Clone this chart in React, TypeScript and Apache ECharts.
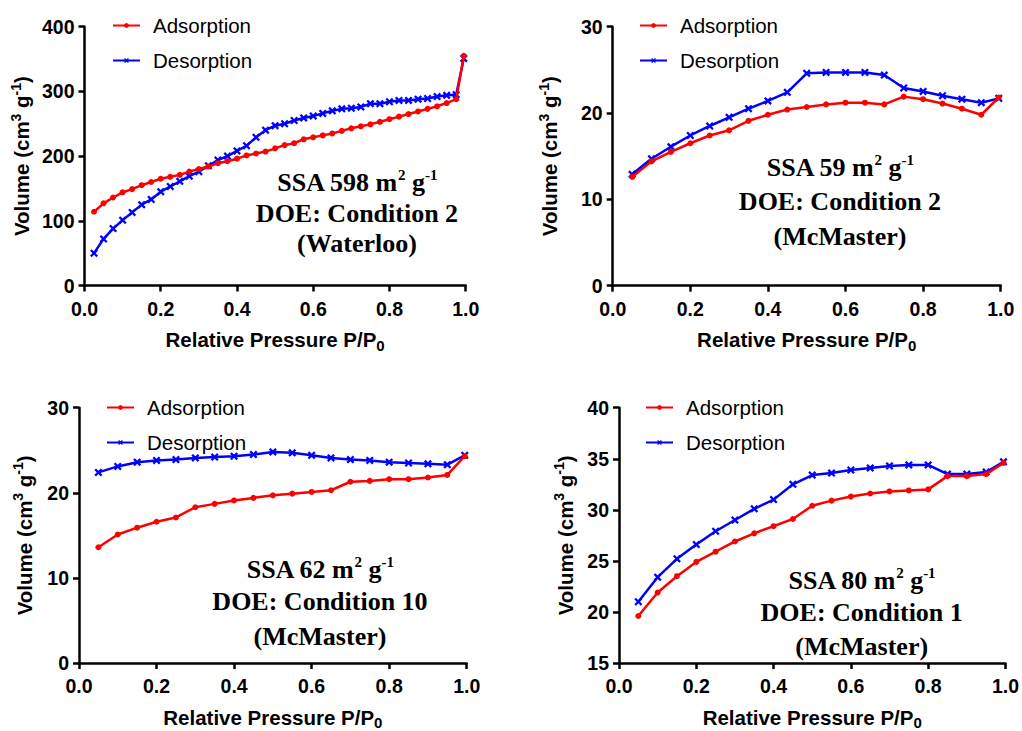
import React, { useEffect, useRef } from "react";
import * as echarts from "echarts";

const p1X = [0.025, 0.05, 0.075, 0.1, 0.125, 0.15, 0.175, 0.2, 0.225, 0.25, 0.275, 0.3, 0.325, 0.35, 0.375, 0.4, 0.425, 0.45, 0.475, 0.5, 0.525, 0.55, 0.575, 0.6, 0.625, 0.65, 0.675, 0.7, 0.725, 0.75, 0.775, 0.8, 0.825, 0.85, 0.875, 0.9, 0.925, 0.95, 0.975, 0.995];
const p1Ads = [114, 127, 136, 144, 149, 155, 160, 165, 168, 171, 176, 180, 184, 189, 192, 196, 201, 204, 207, 212, 217, 220, 226, 229, 232, 235, 239, 243, 246, 249, 253, 257, 261, 265, 269, 273, 277, 282, 288, 355];
const p1Des = [50, 72, 88, 101, 113, 125, 133, 145, 153, 161, 169, 176, 185, 194, 200, 208, 216, 229, 240, 247, 250, 255, 259, 262, 266, 270, 273, 274, 276, 281, 281, 284, 286, 286, 288, 289, 292, 294, 295, 351];

const pX = [0.05, 0.1, 0.15, 0.2, 0.25, 0.3, 0.35, 0.4, 0.45, 0.5, 0.55, 0.6, 0.65, 0.7, 0.75, 0.8, 0.85, 0.9, 0.95, 0.995];
const p2Ads = [12.6, 14.4, 15.5, 16.5, 17.4, 18.0, 19.1, 19.8, 20.4, 20.7, 21.0, 21.2, 21.2, 21.0, 21.9, 21.6, 21.1, 20.5, 19.8, 21.8];
const p2Des = [12.9, 14.7, 16.1, 17.4, 18.5, 19.5, 20.5, 21.4, 22.4, 24.6, 24.7, 24.7, 24.7, 24.4, 22.9, 22.5, 22.0, 21.6, 21.2, 21.7];
const p3Ads = [13.6, 15.1, 15.9, 16.6, 17.1, 18.3, 18.7, 19.1, 19.4, 19.7, 19.9, 20.1, 20.3, 21.3, 21.4, 21.6, 21.6, 21.8, 22.1, 24.3];
const p3Des = [22.4, 23.1, 23.6, 23.8, 23.9, 24.1, 24.2, 24.3, 24.5, 24.8, 24.7, 24.4, 24.1, 23.9, 23.8, 23.6, 23.5, 23.4, 23.3, 24.4];
const p4Ads = [19.6, 21.9, 23.5, 24.9, 25.9, 26.9, 27.7, 28.4, 29.1, 30.4, 30.9, 31.3, 31.6, 31.8, 31.9, 32.0, 33.3, 33.3, 33.5, 34.6];
const p4Des = [21.0, 23.4, 25.2, 26.6, 27.9, 29.0, 30.1, 31.0, 32.5, 33.4, 33.6, 33.9, 34.1, 34.3, 34.4, 34.4, 33.5, 33.5, 33.7, 34.7];

const yMins = [0, 0, 0, 15];
const yMaxs = [400, 30, 30, 40];
const yIntervals = [100, 10, 10, 5];

const seriesNames = ["Adsorption", "Desorption"];
const annotations = [
  ["SSA 598 m", "2", " g", "-1", "DOE: Condition 2", "(Waterloo)"],
  ["SSA 59 m", "2", " g", "-1", "DOE: Condition 2", "(McMaster)"],
  ["SSA 62 m", "2", " g", "-1", "DOE: Condition 10", "(McMaster)"],
  ["SSA 80 m", "2", " g", "-1", "DOE: Condition 1", "(McMaster)"],
];

const SANS = "'Liberation Sans', Arial, sans-serif";
const SERIF = "'Liberation Serif', 'Times New Roman', serif";
const CROSS = "path://M2,0 L5,3 L8,0 L10,2 L7,5 L10,8 L8,10 L5,7 L2,10 L0,8 L3,5 L0,2 Z";

const panels = [
  { left: 84.5, right: 465.7, top: 26.7, bottom: 285.5, yGap: 50, legL: 112, legT: 15, ann: { x: 357, y: [182, 213, 243] } },
  { left: 612.7, right: 1000.7, top: 26.7, bottom: 285.7, yGap: 50, legL: 639, legT: 15, ann: { x: 840, y: [167.5, 201.7, 236] } },
  { left: 79, right: 466.7, top: 407.7, bottom: 667.8, yGap: 42, legL: 106, legT: 397, ann: { x: 320, y: [569, 601.7, 636.7] } },
  { left: 619, right: 1006.7, top: 407.7, bottom: 667.8, yGap: 41, legL: 645, legT: 397, ann: { x: 861.7, y: [580, 612, 646.7] } },
];

const dataSets = [
  { x: p1X, ads: p1Ads, des: p1Des },
  { x: pX, ads: p2Ads, des: p2Des },
  { x: pX, ads: p3Ads, des: p3Des },
  { x: pX, ads: p4Ads, des: p4Des },
];

function zip(xs: number[], ys: number[]) {
  return xs.map((x, i) => [x, ys[i]]);
}

export default function App() {
  const ref = useRef<HTMLDivElement>(null);
  useEffect(() => {
    if (!ref.current) return;
    const chart = echarts.init(ref.current, null, { renderer: "svg" });
    const axisLine = { show: true, lineStyle: { color: "#000", width: 2.5 } };
    const axisTick = { show: true, inside: false, length: 6, lineStyle: { color: "#000", width: 2.5 } };
    const tickLabel = { color: "#000", fontSize: 19.5, fontWeight: "bold", fontFamily: SANS };

    const grid = panels.map((p) => ({
      left: p.left,
      top: p.top,
      width: p.right - p.left,
      height: p.bottom - p.top,
      containLabel: false,
    }));

    const xAxis = panels.map((p, i) => ({
      type: "value",
      gridIndex: i,
      min: 0,
      max: 1,
      interval: 0.2,
      axisLine,
      axisTick,
      splitLine: { show: false },
      axisLabel: { ...tickLabel, margin: 13, formatter: (v: number) => v.toFixed(1) },
      name: "Relative Pressure P/P{sub|0}",
      nameLocation: "middle",
      nameGap: 41,
      nameTextStyle: {
        color: "#000",
        fontSize: 20.5,
        fontWeight: "bold",
        fontFamily: SANS,
        lineHeight: 26,
        rich: {
          sub: { fontSize: 15, fontWeight: "bold", fontFamily: SANS, color: "#000", verticalAlign: "bottom", lineHeight: 15 },
        },
      },
    }));

    const yAxis = panels.map((p, i) => ({
      type: "value",
      gridIndex: i,
      min: yMins[i],
      max: yMaxs[i],
      interval: yIntervals[i],
      axisLine,
      axisTick,
      splitLine: { show: false },
      axisLabel: { ...tickLabel, margin: 10 },
      name: "Volume (cm{sup|3} g{sup|-1})",
      nameLocation: "middle",
      nameGap: p.yGap,
      nameTextStyle: {
        color: "#000",
        fontSize: 20.5,
        fontWeight: "bold",
        fontFamily: SANS,
        lineHeight: 26,
        rich: {
          sup: { fontSize: 14, fontWeight: "bold", fontFamily: SANS, color: "#000", verticalAlign: "top", lineHeight: 16 },
        },
      },
    }));

    const series: any[] = [];
    dataSets.forEach((d, i) => {
      series.push({
        type: "line",
        name: seriesNames[0],
        xAxisIndex: i,
        yAxisIndex: i,
        data: zip(d.x, d.ads),
        symbol: "circle",
        symbolSize: 6,
        lineStyle: { color: "#ff0000", width: 2.5 },
        itemStyle: { color: "#ff0000" },
        z: 3,
      });
      series.push({
        type: "line",
        name: seriesNames[1],
        xAxisIndex: i,
        yAxisIndex: i,
        data: zip(d.x, d.des),
        symbol: CROSS,
        symbolSize: 8,
        lineStyle: { color: "#0000ff", width: 2.5 },
        itemStyle: { color: "#0000ff" },
        z: 2,
      });
    });

    const legend = panels.map((p) => ({
      data: seriesNames,
      orient: "vertical",
      left: p.legL - 5,
      top: p.legT - 5,
      itemWidth: 27,
      itemHeight: 6,
      itemGap: 14,
      selectedMode: false,
      textStyle: { color: "#000", fontSize: 20.5, fontFamily: SANS, padding: [0, 0, 0, 8], lineHeight: 21 },
    }));

    const mainRich = {
      b: { fontSize: 26, fontWeight: "bold", fontFamily: SERIF, fill: "#000", color: "#000", lineHeight: 30 },
      s: { fontSize: 15, fontWeight: "bold", fontFamily: SERIF, fill: "#000", color: "#000", lineHeight: 22, verticalAlign: "top" },
    };
    const graphic: any[] = [];
    panels.forEach((p, i) => {
      const a = annotations[i];
      graphic.push({
        type: "text",
        silent: true,
        style: {
          x: p.ann.x,
          y: p.ann.y[0],
          text: `{b|${a[0]}}{s|${a[1]}}{b|${a[2]}}{s|${a[3]}}`,
          rich: mainRich,
          align: "center",
          verticalAlign: "middle",
        },
      });
      graphic.push({
        type: "text",
        silent: true,
        style: {
          x: p.ann.x,
          y: p.ann.y[1],
          text: a[4],
          fill: "#000",
          font: `bold 26px ${SERIF}`,
          align: "center",
          verticalAlign: "middle",
        },
      });
      graphic.push({
        type: "text",
        silent: true,
        style: {
          x: p.ann.x,
          y: p.ann.y[2],
          text: a[5],
          fill: "#000",
          font: `bold 26px ${SERIF}`,
          align: "center",
          verticalAlign: "middle",
        },
      });
    });

    chart.setOption({
      animation: false,
      backgroundColor: "#fff",
      grid,
      xAxis,
      yAxis,
      series,
      legend,
      graphic,
    });
    return () => chart.dispose();
  }, []);
  return (
    <div
      ref={ref}
      style={{ position: "fixed", left: 0, top: 0, width: 1022, height: 731, background: "#fff" }}
    />
  );
}
